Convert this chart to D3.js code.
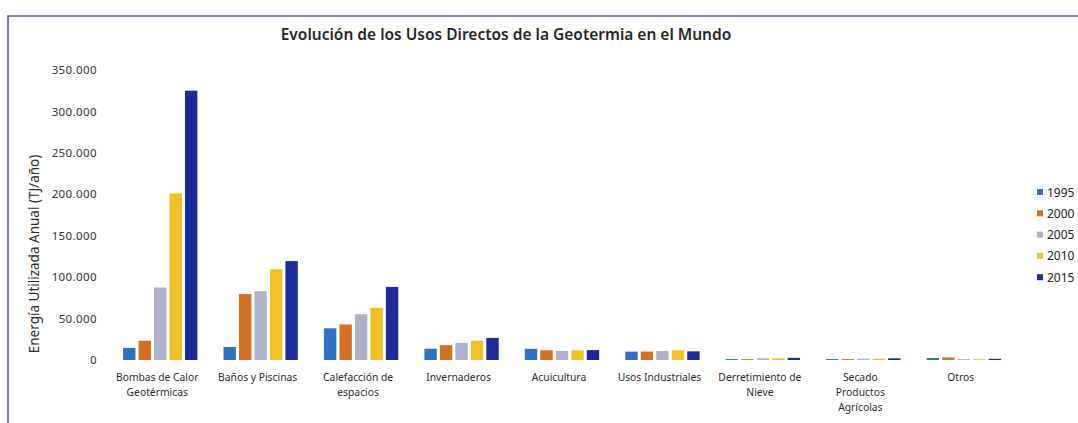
<!DOCTYPE html>
<html>
<head>
<meta charset="utf-8">
<script src="https://cdn.jsdelivr.net/npm/d3@7"></script>
<style>
  body { margin: 0; background: #fff; }
  svg { display: block; font-family: "Noto Sans", "Open Sans", sans-serif; }
</style>
</head>
<body>
<svg id="chart" width="1078" height="423"></svg>
<script>
// categories and values (TJ/año)
const categories = [
  "Bombas de Calor\nGeotérmicas",
  "Baños y Piscinas",
  "Calefacción de\nespacios",
  "Invernaderos",
  "Acuicultura",
  "Usos Industriales",
  "Derretimiento de\nNieve",
  "Secado\nProductos\nAgrícolas",
  "Otros"
];
const years = ["1995", "2000", "2005", "2010", "2015"];
const v1995 = [14617, 15742, 38230, 13592, 13493, 10120, 1085, 1124, 2422];
const v2000 = [23275, 79546, 42926, 17864, 11733, 10220, 1063, 1038, 3034];
const v2005 = [87503, 83018, 55256, 20661, 10976, 10868, 2032, 1662, 1045];
const v2010 = [201000, 109410, 62984, 23264, 11521, 11746, 2126, 1635, 955];
const v2015 = [325028, 119381, 88222, 26662, 11958, 10453, 2600, 2030, 1452];
const yTicks = [0, 50000, 100000, 150000, 200000, 250000, 300000, 350000];
const colors = ["#2f6fc4", "#d4701f", "#aeb1c9", "#f2c026", "#1b2b99"];

const series = [v1995, v2000, v2005, v2010, v2015];
const svg = d3.select("#chart");

const locale = d3.formatLocale({ decimal: ",", thousands: ".", grouping: [3], currency: ["", ""] });
const fmt = locale.format(",.0f");

// frame
svg.append("path")
  .attr("d", "M8,423 L8,16 L1078,16")
  .attr("fill", "none")
  .attr("stroke", "#56618a")
  .attr("stroke-width", 1.6);

const x0 = d3.scaleBand()
  .domain(d3.range(categories.length))
  .range([110, 1014])
  .paddingInner(0.26)
  .paddingOuter(0.13);

const x1 = d3.scaleBand()
  .domain(years)
  .range([0, x0.bandwidth()])
  .paddingInner(0.2);

const y = d3.scaleLinear()
  .domain([0, 350000])
  .range([360, 70]);

// title
svg.append("text")
  .attr("x", 506)
  .attr("y", 40)
  .attr("text-anchor", "middle")
  .attr("font-size", "15.5px")
  .attr("font-weight", 600)
  .attr("fill", "#262626")
  .text("Evolución de los Usos Directos de la Geotermia en el Mundo");

// y axis (labels only)
const yAxis = svg.append("g")
  .attr("transform", "translate(97,0)")
  .call(d3.axisLeft(y).tickValues(yTicks).tickFormat(fmt).tickSize(0).tickPadding(0));
yAxis.select(".domain").remove();
yAxis.selectAll("text")
  .attr("font-family", "Noto Sans, sans-serif")
  .attr("font-size", "11.5px")
  .attr("letter-spacing", "0.4px")
  .attr("fill", "#333");

svg.append("text")
  .attr("transform", "translate(39,254) rotate(-90)")
  .attr("text-anchor", "middle")
  .attr("font-size", "13.5px")
  .attr("fill", "#2a2a2a")
  .text("Energía Utilizada Anual (TJ/año)");

// bars
const groups = svg.append("g")
  .selectAll("g")
  .data(categories)
  .enter()
  .append("g")
  .attr("transform", (d, i) => `translate(${x0(i)},0)`);

groups.selectAll("rect")
  .data((d, i) => years.map((yr, j) => ({ year: yr, j: j, value: series[j][i] })))
  .enter()
  .append("rect")
  .attr("x", (d) => x1(d.year))
  .attr("y", (d) => y(d.value))
  .attr("width", x1.bandwidth())
  .attr("height", (d) => y(0) - y(d.value))
  .attr("fill", (d) => colors[d.j]);

// category labels
const labels = svg.append("g")
  .selectAll("text")
  .data(categories)
  .enter()
  .append("text")
  .attr("x", (d, i) => x0(i) + x0.bandwidth() / 2 - 3)
  .attr("y", 381)
  .attr("text-anchor", "middle")
  .attr("font-size", "10.3px")
  .attr("fill", "#2a2a2a");

labels.each(function (d) {
  const t = d3.select(this);
  d.split("\n").forEach((line, k) => {
    t.append("tspan")
      .attr("x", t.attr("x"))
      .attr("dy", k === 0 ? 0 : 15)
      .text(line);
  });
});

// legend
const legend = svg.append("g")
  .selectAll("g")
  .data(years)
  .enter()
  .append("g")
  .attr("transform", (d, i) => `translate(1037,${192 + i * 21.3})`);

legend.append("rect")
  .attr("x", 0)
  .attr("y", -3)
  .attr("width", 6)
  .attr("height", 6)
  .attr("fill", (d, i) => colors[i]);

legend.append("text")
  .attr("x", 10)
  .attr("y", 4.5)
  .attr("font-size", "12px")
  .attr("fill", "#222")
  .text((d) => d);
</script>
</body>
</html>
